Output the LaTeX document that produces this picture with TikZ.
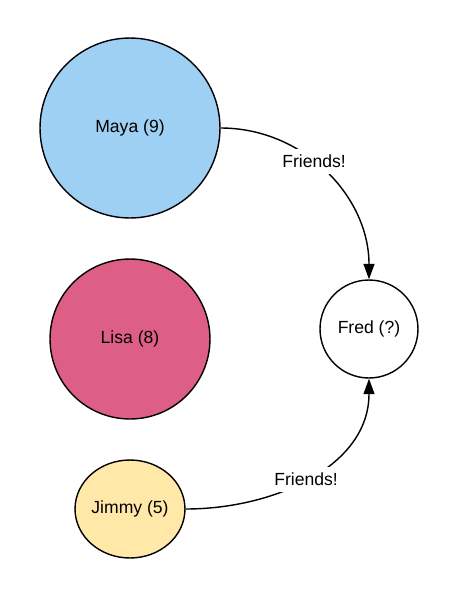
\documentclass[tikz,border=0pt]{standalone}
\usepackage{fontspec}
\setmainfont{Liberation Sans}
\usetikzlibrary{shapes, arrows.meta, positioning}
\definecolor{mayablue}{HTML}{9ED0F3}
\definecolor{lisapink}{HTML}{DE5F86}
\definecolor{jimmyyellow}{HTML}{FFE8A8}

\begin{document}
\begin{tikzpicture}[x=0.02cm, y=-0.02cm, line width=0.8pt,
    >={Triangle[length=3.1mm, width=2.2mm]}]
  \useasboundingbox (0,0) rectangle (460,600);
  \foreach \N/\X/\Y/\D/\C/\T in {  maya/130/128/3.6/mayablue/{Maya (9)},
                                  lisa/130/339/3.2/lisapink/{Lisa (8)},
                                  fred/369/329/1.96/white/{Fred (?)}
  } {
  \node[draw, circle, fill=\C, minimum size=\D cm, inner sep=0pt](\N) at (\X,\Y) {\T};
  }
  \node[draw, ellipse, fill=jimmyyellow, minimum width=2.2cm, minimum height=1.96cm,
    inner sep=0pt](jimmy) at (130,509) {Jimmy (5)};

  \draw[->] (maya.east) to[out=0, in=90] node[fill=white, pos=0.43] {Friends!} (fred.north);
  \draw[->] (jimmy.east) to[out=0, in=-90] node[fill=white, pos=0.48] {Friends!} (fred.south);
\end{tikzpicture}
\end{document}
